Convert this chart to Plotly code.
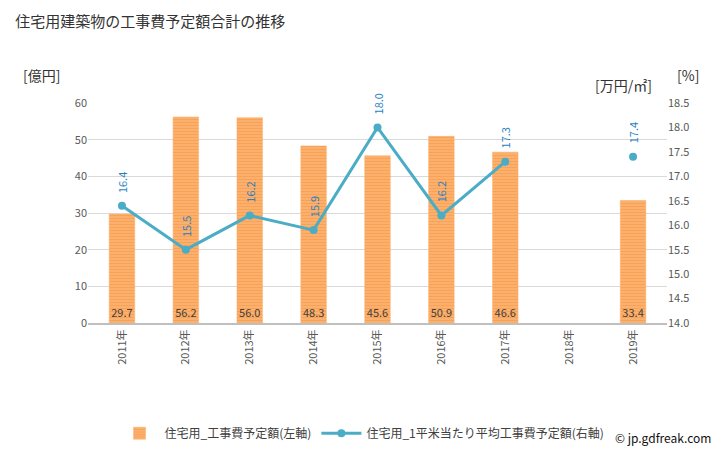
import plotly.graph_objects as go

years = ["2011年", "2012年", "2013年", "2014年", "2015年", "2016年", "2017年", "2018年", "2019年"]
cost = [29.7, 56.2, 56.0, 48.3, 45.6, 50.9, 46.6, None, 33.4]
unit_cost = [16.4, 15.5, 16.2, 15.9, 18.0, 16.2, 17.3, None, 17.4]

left_ticks = [0, 10, 20, 30, 40, 50, 60]
right_ticks = [14.0, 14.5, 15.0, 15.5, 16.0, 16.5, 17.0, 17.5, 18.0, 18.5]

fig = go.Figure()

fig.add_trace(go.Bar(
    x=years, y=cost, name="住宅用_工事費予定額(左軸)",
    marker=dict(color="#fcb97c", line=dict(color="#fbb06a", width=0.5),
                pattern=dict(shape="-", fgcolor="#f68a2e", size=3, solidity=0.6)),
    width=0.4,
    text=[f"{v:.1f}" if v is not None else "" for v in cost],
    textposition="inside", insidetextanchor="start", textangle=0,
    textfont=dict(size=11, color="#404040"),
    constraintext="none",
    yaxis="y",
))

fig.add_trace(go.Scatter(
    x=years, y=unit_cost, name="住宅用_1平米当たり平均工事費予定額(右軸)",
    mode="lines+markers", line=dict(color="#4bacc6", width=3),
    marker=dict(size=8, color="#4bacc6"),
    connectgaps=False, yaxis="y2",
))

for x, v in zip(years, unit_cost):
    if v is None:
        continue
    fig.add_annotation(x=x, y=v, xref="x", yref="y2", text=f"{v:.1f}",
                       textangle=-90, showarrow=False, yanchor="bottom",
                       yshift=11, font=dict(size=11, color="#2a7fc0"))

fig.update_layout(
    width=720, height=442,
    margin=dict(l=80, r=61, t=95, b=127, autoexpand=False),
    paper_bgcolor="white", plot_bgcolor="white",
    font=dict(family="Noto Sans CJK JP", size=11, color="#595959"),
    title=dict(text="住宅用建築物の工事費予定額合計の推移", x=0.01, xanchor="left",
               y=0.968, yanchor="middle", font=dict(size=15, color="#333333")),
    showlegend=True,
    legend=dict(orientation="h", xref="container", yref="container",
                x=0.148, xanchor="left", y=0.038, yanchor="middle",
                font=dict(size=12, color="#404040"), itemwidth=40),
    xaxis=dict(type="category", tickangle=-90, showgrid=False,
               showline=True, linecolor="#bfbfbf", linewidth=2,
               ticks="", tickfont=dict(size=11, color="#595959")),
    yaxis=dict(range=[0, 60], tickvals=left_ticks, showgrid=True, gridcolor="#d9d9d9",
               zeroline=False, ticks="", tickfont=dict(size=11, color="#595959")),
    yaxis2=dict(range=[14.0, 18.5], tickvals=right_ticks,
                ticktext=[f"{t:.1f}" for t in right_ticks],
                overlaying="y", side="right", showgrid=False, zeroline=False,
                ticks="", tickfont=dict(size=11, color="#595959")),
)

fig.add_annotation(x=-0.115, y=1.127, xref="paper", yref="paper", xanchor="left",
                   yanchor="middle", text="[億円]", showarrow=False,
                   font=dict(size=14, color="#333333"))
fig.add_annotation(x=0.873, y=1.082, xref="paper", yref="paper", xanchor="left",
                   yanchor="middle", text="[万円/㎡]", showarrow=False,
                   font=dict(size=14, color="#333333"))
fig.add_annotation(x=1.013, y=1.127, xref="paper", yref="paper", xanchor="left",
                   yanchor="middle", text="[%]", showarrow=False,
                   font=dict(size=14, color="#333333"))
fig.add_annotation(x=1.08, y=-0.52, xref="paper", yref="paper", xanchor="right",
                   yanchor="middle", text="© jp.gdfreak.com", showarrow=False,
                   font=dict(size=12, color="#111111"))

fig.write_html("out.html")
